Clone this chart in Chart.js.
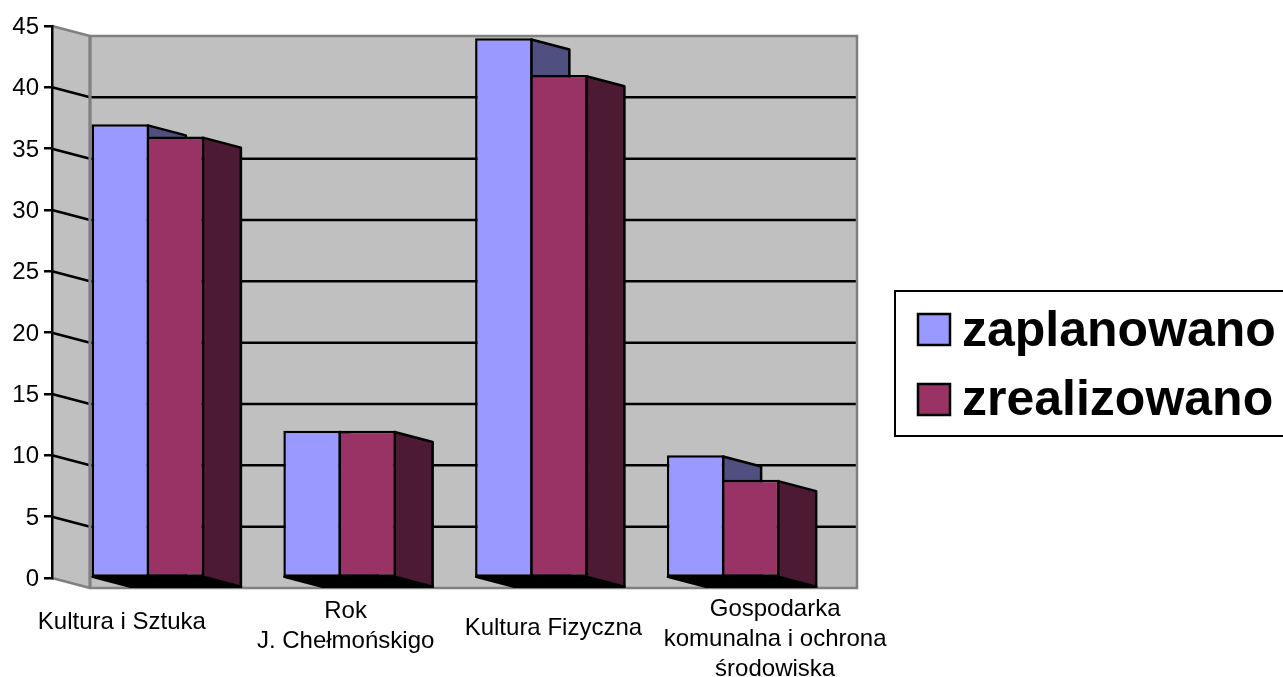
<!DOCTYPE html>
<html>
<head>
<meta charset="utf-8">
<style>
  html, body { margin: 0; padding: 0; background: #fff; overflow: hidden; }
  canvas { display: block; }
</style>
<script src="https://cdn.jsdelivr.net/npm/chart.js@4/dist/chart.umd.min.js"></script>
</head>
<body>
<canvas id="chart" width="1283" height="677"></canvas>
<script>
const categories = [
  ['Kultura i Sztuka'],
  ['Rok', 'J. Chełmońskigo'],
  ['Kultura Fizyczna'],
  ['Gospodarka', 'komunalna i ochrona', 'środowiska']
];
const seriesNames = ['zaplanowano', 'zrealizowano'];
const planned = [37, 12, 44, 10];
const realized = [36, 12, 41, 8];

const FRONT_COLORS = ['#9999ff', '#993366'];
const SIDE_COLORS = ['#4f4f80', '#4c1a33'];
const DEPTH_X = 38;
const DEPTH_Y = 10;
const LINE = 2.5;
const FONT = '"Liberation Sans", Arial, sans-serif';

// the labels in the original sit off the category centres
const labelShift = [-26, 6, 22, 52];
const labelTop = [622, 611, 628, 609];

function poly(ctx, pts, fill, stroke, width) {
  ctx.beginPath();
  pts.forEach((p, i) => i ? ctx.lineTo(p[0], p[1]) : ctx.moveTo(p[0], p[1]));
  ctx.closePath();
  if (fill) { ctx.fillStyle = fill; ctx.fill(); }
  if (stroke) { ctx.strokeStyle = stroke; ctx.lineWidth = width; ctx.stroke(); }
}

function line(ctx, x1, y1, x2, y2, color, width) {
  ctx.beginPath();
  ctx.moveTo(x1, y1);
  ctx.lineTo(x2, y2);
  ctx.strokeStyle = color;
  ctx.lineWidth = width;
  ctx.stroke();
}

function sideFace(ctx, bar, color) {
  const x = bar.x + bar.width / 2 - LINE / 2;
  const top = bar.y + LINE / 2;
  poly(ctx, [[x, top], [x + DEPTH_X, top + DEPTH_Y], [x + DEPTH_X, bar.base + DEPTH_Y], [x, bar.base]], color, '#000', LINE);
}

const walls = {
  id: 'walls',
  beforeDraw(chart) {
    const { ctx, chartArea: a, scales: { y } } = chart;
    const l = a.left, r = a.right, t = a.top, b = a.bottom;
    const dx = DEPTH_X, dy = DEPTH_Y;
    ctx.save();
    // side wall, back wall, floor
    poly(ctx, [[l, t], [l + dx, t + dy], [l + dx, b + dy], [l, b]], '#c0c0c0');
    poly(ctx, [[l + dx, t + dy], [r + dx, t + dy], [r + dx, b + dy], [l + dx, b + dy]], '#c0c0c0');
    poly(ctx, [[l, b], [r, b], [r + dx, b + dy], [l + dx, b + dy]], '#c0c0c0');
    // gridlines run across the side wall and then the back wall
    y.ticks.forEach(tick => {
      if (tick.value === y.min || tick.value === y.max) return;
      const py = y.getPixelForValue(tick.value);
      line(ctx, l, py, l + dx, py + dy, '#000', LINE);
      line(ctx, l + dx, py + dy, r + dx, py + dy, '#000', LINE);
    });
    // grey outline of the walls
    line(ctx, l, t, l + dx, t + dy, '#808080', 2.5);
    line(ctx, l, b, l + dx, b + dy, '#808080', 2.5);
    line(ctx, l + dx, t + dy, l + dx, b + dy, '#808080', 3);
    poly(ctx, [[l + dx, t + dy], [r + dx, t + dy], [r + dx, b + dy], [l + dx, b + dy]], null, '#808080', 2.5);
    ctx.restore();
  },
  beforeDatasetsDraw(chart) {
    const { ctx } = chart;
    const dx = DEPTH_X, dy = DEPTH_Y;
    const first = chart.getDatasetMeta(0).data;
    const second = chart.getDatasetMeta(1).data;
    ctx.save();
    ctx.lineJoin = 'round';
    first.forEach(bar => sideFace(ctx, bar, SIDE_COLORS[0]));
    // black underside of each group
    first.forEach((bar, i) => {
      const x1 = bar.x - bar.width / 2 + 1;
      const x2 = second[i].x + second[i].width / 2 - 1;
      const base = bar.base;
      poly(ctx, [[x1, base], [x2, base], [x2 + dx, base + dy], [x1 + dx, base + dy]], '#000', '#000', LINE);
    });
    second.forEach(bar => sideFace(ctx, bar, SIDE_COLORS[1]));
    ctx.restore();
  },
  afterDraw(chart) {
    const { ctx, scales: { x } } = chart;
    ctx.save();
    // category labels
    ctx.fillStyle = '#000';
    ctx.font = '24px ' + FONT;
    ctx.textAlign = 'center';
    ctx.textBaseline = 'middle';
    categories.forEach((lines, i) => {
      const cx = x.getPixelForValue(i) + labelShift[i];
      lines.forEach((text, k) => ctx.fillText(text, cx, labelTop[i] + k * 30));
    });
    // legend box, cut by the right edge like the original
    ctx.strokeStyle = '#000';
    ctx.lineWidth = 2;
    ctx.strokeRect(895, 291, 400, 145);
    ctx.font = 'bold 50px ' + FONT;
    ctx.textAlign = 'left';
    ctx.textBaseline = 'alphabetic';
    chart.data.datasets.forEach((ds, i) => {
      const top = 314 + i * 70;
      ctx.fillStyle = ds.backgroundColor;
      ctx.fillRect(918, top, 32, 31);
      ctx.lineWidth = 2.5;
      ctx.strokeRect(918, top, 32, 31);
      ctx.fillStyle = '#000';
      ctx.fillText(ds.label, 962, 346 + i * 69);
    });
    ctx.restore();
  }
};

new Chart(document.getElementById('chart'), {
  type: 'bar',
  data: {
    labels: categories,
    datasets: [
      { label: seriesNames[0], data: planned, backgroundColor: FRONT_COLORS[0] },
      { label: seriesNames[1], data: realized, backgroundColor: FRONT_COLORS[1] }
    ]
  },
  options: {
    responsive: false,
    animation: false,
    devicePixelRatio: 1,
    layout: { padding: { top: 26, right: 464, bottom: 0, left: 0 } },
    datasets: {
      bar: {
        borderColor: '#000',
        borderWidth: LINE,
        borderSkipped: false,
        categoryPercentage: 0.574,
        barPercentage: 1.045
      }
    },
    plugins: {
      legend: { display: false },
      title: { display: false },
      tooltip: { enabled: false }
    },
    scales: {
      x: {
        afterFit(scale) { scale.height = 99; },
        grid: { display: false },
        border: { display: false },
        ticks: { display: false }
      },
      y: {
        min: 0,
        max: 45,
        afterFit(scale) { scale.width = 52; },
        grid: { drawOnChartArea: false, color: '#000', lineWidth: LINE, tickLength: 8 },
        border: { display: true, color: '#000', width: LINE },
        ticks: {
          stepSize: 5,
          padding: 5,
          labelOffset: 1.5,
          color: '#000',
          font: { family: FONT, size: 24 }
        }
      }
    }
  },
  plugins: [walls]
});
</script>
</body>
</html>
